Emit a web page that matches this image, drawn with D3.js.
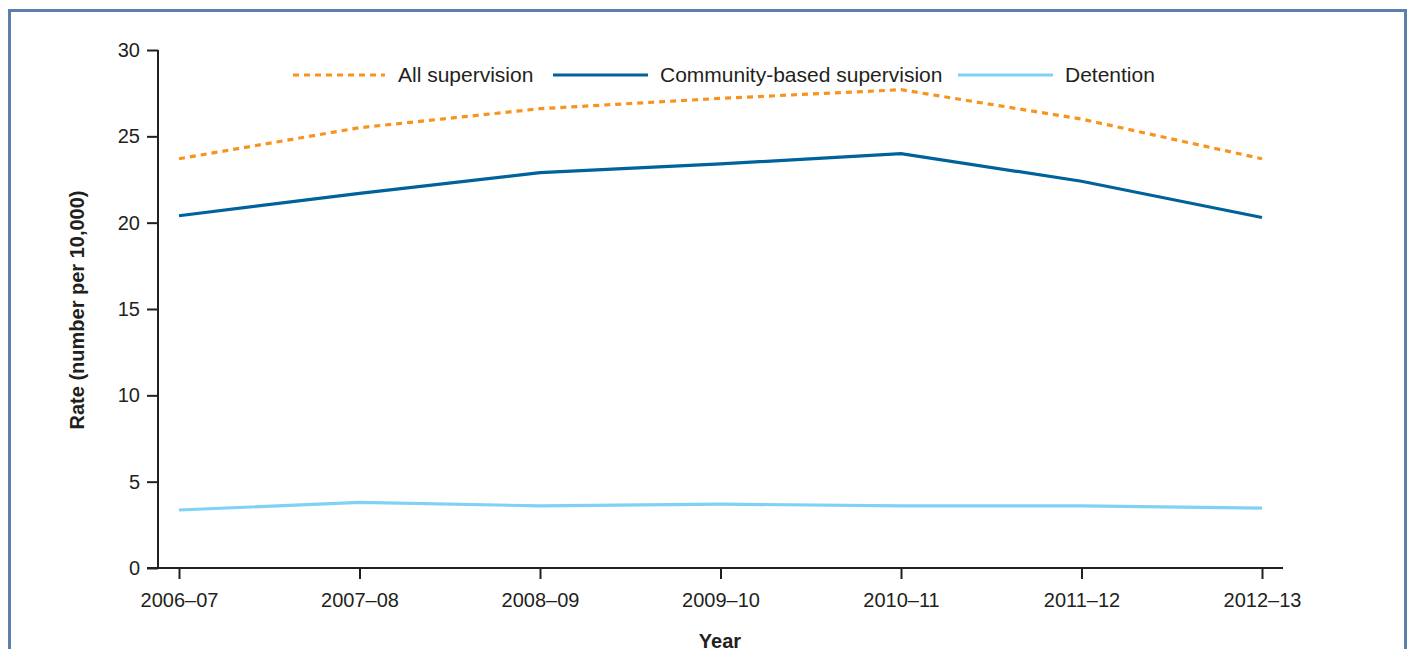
<!DOCTYPE html>
<html><head><meta charset="utf-8">
<script src="https://cdn.jsdelivr.net/npm/d3@7"></script>
<style>body{margin:0;background:#fff;}svg{display:block;font-family:"Liberation Sans",Arial,sans-serif;}</style>
</head><body>
<svg id="c" width="1408" height="649"></svg>
<script>
const years = ["2006–07","2007–08","2008–09","2009–10","2010–11","2011–12","2012–13"];
const allSupervision = [23.7, 25.5, 26.6, 27.2, 27.7, 26.0, 23.7];
const communityBased = [20.4, 21.7, 22.9, 23.4, 24.0, 22.4, 20.3];
const detention = [3.36, 3.8, 3.6, 3.7, 3.6, 3.6, 3.47];
const yTicks = [0, 5, 10, 15, 20, 25, 30];
const seriesNames = ["All supervision", "Community-based supervision", "Detention"];

const svg = d3.select("#c");
svg.append("rect").attr("x",9.5).attr("y",10.5).attr("width",1396).attr("height",660)
  .attr("fill","none").attr("stroke","#5b80ab").attr("stroke-width",3);

const x = d3.scalePoint().domain(years).range([179, 1262]);
const y = d3.scaleLinear().domain([0, 30]).range([568, 50]);

const series = [
  {name: seriesNames[0], values: allSupervision, color: "#f7941d", dash: "6,5"},
  {name: seriesNames[1], values: communityBased, color: "#00629b", dash: null},
  {name: seriesNames[2], values: detention, color: "#7fd1f5", dash: null}
];

// axes
const yAxis = svg.append("g").attr("transform","translate(158,0)")
  .call(d3.axisLeft(y).tickValues(yTicks).tickSize(11).tickPadding(7));
const xAxis = svg.append("g").attr("transform","translate(0,568)")
  .call(d3.axisBottom(x).tickSize(11).tickPadding(14));
xAxis.select(".domain").attr("d","M147,0H1283");
yAxis.select(".domain").attr("d","M0,50V568");
svg.selectAll(".domain").attr("stroke","#231f20").attr("stroke-width",2);
svg.selectAll(".tick line").attr("stroke","#231f20").attr("stroke-width",2);
svg.selectAll("g").attr("font-size",20).attr("font-family","Liberation Sans, Arial, sans-serif");
svg.selectAll(".tick text").attr("fill","#231f20");

// lines
const line = d3.line().x((d,i)=>x(years[i])).y(d=>y(d));
series.forEach(s=>{
  svg.append("path").datum(s.values).attr("d",line).attr("fill","none")
    .attr("stroke",s.color).attr("stroke-width",3.2)
    .attr("stroke-dasharray",s.dash);
});

// legend
const legendPos = [{x1:293,x2:385,tx:398},{x1:553,x2:648,tx:660},{x1:958,x2:1053,tx:1065}];
series.forEach((s,i)=>{
  const p = legendPos[i];
  svg.append("line").attr("x1",p.x1).attr("x2",p.x2).attr("y1",75).attr("y2",75)
    .attr("stroke",s.color).attr("stroke-width",3.2).attr("stroke-dasharray",s.dash);
  svg.append("text").attr("x",p.tx).attr("y",82).attr("font-size",21).attr("fill","#231f20").text(s.name);
});

// axis titles
svg.append("text").attr("x",720).attr("y",648).attr("text-anchor","middle")
  .attr("font-size",20).attr("font-weight","bold").attr("fill","#231f20").text("Year");
svg.append("text").attr("transform","translate(84,310) rotate(-90)").attr("text-anchor","middle")
  .attr("font-size",20).attr("font-weight","bold").attr("fill","#231f20").text("Rate (number per 10,000)");
</script>
</body></html>
